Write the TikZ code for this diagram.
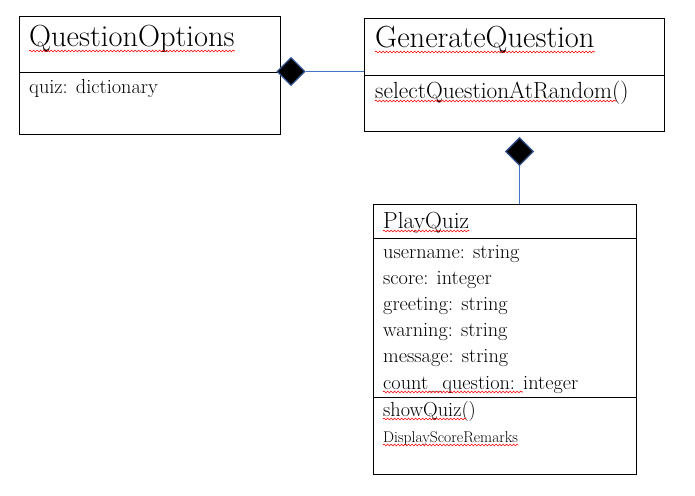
\documentclass[tikz,border=0pt]{standalone}
\usepackage{tikz}
\usetikzlibrary{shapes.geometric,decorations.pathmorphing}
\definecolor{linkblue}{HTML}{4472C4}
\definecolor{edgeblue}{HTML}{2F528F}

\begin{document}
\begin{tikzpicture}[
       x=1pt,y=-1pt,
       umlbox/.style={
         draw=black,
         line width=1pt,
         inner sep=0pt,
         outer sep=0pt
       },
       divider/.style={black, line width=1pt},
       titletext/.style={anchor=base west, inner sep=0pt, font=\fontsize{30.5}{31}\selectfont},
       methtext/.style={anchor=base west, inner sep=0pt, font=\fontsize{23.3}{24}\selectfont},
       attrtext/.style={anchor=base west, inner sep=0pt, font=\fontsize{20.3}{21}\selectfont},
       smalltext/.style={anchor=base west, inner sep=0pt, font=\fontsize{15.6}{16}\selectfont},
       compose/.style={
         diamond,
         aspect=1,
         fill=black,
         draw=edgeblue,
         line width=1.2pt,
         inner sep=0pt,
         minimum size=28pt
       },
       assoc/.style={linkblue, line width=0.9pt},
       squig/.style={red, line width=0.6pt,
         decorate, decoration={snake, segment length=3.5pt, amplitude=0.9pt}}
     ]
       \useasboundingbox (0,0) rectangle (695,495);

       % class boxes
       \node (qo) at (149.5,75.5) [umlbox, minimum width=261pt, minimum height=117pt]{};
       \node (gq) at (514,75) [umlbox, minimum width=300pt, minimum height=112pt]{};
       \node (pq) at (504.5,339) [umlbox, minimum width=263pt, minimum height=270pt]{};

       \draw[divider] (19,72) -- (280,72);
       \draw[divider] (364,75) -- (664,75);
       \draw[divider] (373,238) -- (636,238);
       \draw[divider] (373,397) -- (636,397);

       % QuestionOptions
       \node (qot) at (29,47) [titletext]{QuestionOptions};
       \node (qoa) at (29,93) [attrtext]{quiz: dictionary};

       % GenerateQuestion
       \node (gqt) at (375,48) [titletext]{GenerateQuestion};
       \node (gqm) at (375,98) [methtext]{selectQuestionAtRandom()};

       % PlayQuiz
       \node (pqt) at (383,228) [methtext]{PlayQuiz};
       \node (pqa1) at (383,258) [attrtext]{username: string};
       \node (pqa2) at (383,284) [attrtext]{score: integer};
       \node (pqa3) at (383,310) [attrtext]{greeting: string};
       \node (pqa4) at (383,336) [attrtext]{warning: string};
       \node (pqa5) at (383,362) [attrtext]{message: string};
       \node (pqa6) at (383,389) [attrtext]{count\_question: integer};
       \node (pqm1) at (383,416) [attrtext]{showQuiz()};
       \node (pqm2) at (383,442) [smalltext]{DisplayScoreRemarks};

       % spelling marks
       \draw[squig] ([yshift=-4pt]qot.base west) -- ([yshift=-4pt]qot.base east);
       \draw[squig] ([yshift=-4pt]gqt.base west) -- ([yshift=-4pt]gqt.base east);
       \draw[squig] ([yshift=-3pt]gqm.base west) -- ([yshift=-3pt,xshift=-12pt]gqm.base east);
       \draw[squig] ([yshift=-3pt]pqt.base west) -- ([yshift=-3pt]pqt.base east);
       \draw[squig] ([yshift=-3pt]pqa6.base west) -- ([yshift=-3pt,xshift=140pt]pqa6.base west);
       \draw[squig] ([yshift=-3pt]pqm1.base west) -- ([yshift=-3pt,xshift=-10pt]pqm1.base east);
       \draw[squig] ([yshift=-3pt]pqm2.base west) -- ([yshift=-3pt]pqm2.base east);

       % compositions
       \node (d1) at (291,71.5) [compose]{};
       \node (d2) at (519.5,151.5) [compose]{};

       \draw[assoc] (d1.east) -- (gq.west |- d1.east);
       \draw[assoc] (d2.south) -- (pq.north -| d2.south);

\end{tikzpicture}
\end{document}
